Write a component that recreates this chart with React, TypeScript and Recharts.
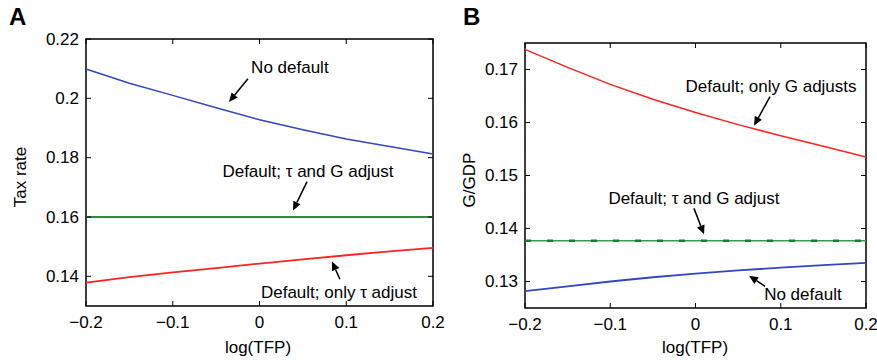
import {
  Line,
  LineChart,
  ReferenceArea,
  ReferenceDot,
  ReferenceLine,
  XAxis,
  YAxis,
} from "recharts";

// x values: log(TFP)
const logTfp = [-0.2, -0.15, -0.1, -0.05, 0, 0.05, 0.1, 0.15, 0.2];

// panel A: tax rate
const taxNoDefault = [0.2099, 0.2051, 0.201, 0.1968, 0.1928, 0.1894, 0.1863, 0.1838, 0.1812];
const taxBothAdjust = [0.16, 0.16, 0.16, 0.16, 0.16, 0.16, 0.16, 0.16, 0.16];
const taxOnlyTau = [0.1379, 0.1397, 0.1413, 0.1428, 0.1443, 0.1457, 0.1471, 0.1484, 0.1496];

// panel B: G/GDP
const gOnlyG = [0.1738, 0.1704, 0.1672, 0.1644, 0.1619, 0.1596, 0.1575, 0.1555, 0.1535];
const gBothAdjust = [0.1377, 0.1377, 0.1377, 0.1377, 0.1377, 0.1377, 0.1377, 0.1377, 0.1377];
const gNoDefault = [0.1282, 0.1291, 0.13, 0.1308, 0.1315, 0.1321, 0.1326, 0.1331, 0.1335];

const xTicks = [-0.2, -0.1, 0, 0.1, 0.2];
const taxTicks = [0.14, 0.16, 0.18, 0.2, 0.22];
const gTicks = [0.13, 0.14, 0.15, 0.16, 0.17];

const BLUE = "#3346c4";
const RED = "#ff2222";
const GREEN = "#2e8b44";
const FONT = "'Liberation Sans', Arial, sans-serif";

const dataA = logTfp.map((x, i) => ({
  x,
  noDefault: taxNoDefault[i],
  both: taxBothAdjust[i],
  onlyTau: taxOnlyTau[i],
}));

const dataB = logTfp.map((x, i) => ({
  x,
  onlyG: gOnlyG[i],
  both: gBothAdjust[i],
  noDefault: gNoDefault[i],
}));

// annotation: text position and arrow (tail -> tip), all in data units
type Note = {
  text: string;
  tx: number;
  ty: number;
  from: [number, number];
  to: [number, number];
};

const notesA: Note[] = [
  { text: "No default", tx: 0.035, ty: 0.2103, from: [-0.0133, 0.2066], to: [-0.0352, 0.1988] },
  { text: "Default; τ and G adjust", tx: 0.0559, ty: 0.1753, from: [0.0548, 0.1719], to: [0.0386, 0.1622] },
  { text: "Default; only τ adjust", tx: 0.0916, ty: 0.1346, from: [0.0927, 0.139], to: [0.0836, 0.145] },
];

const notesB: Note[] = [
  { text: "Default; only G adjusts", tx: 0.0886, ty: 0.1668, from: [0.0874, 0.1649], to: [0.0686, 0.1594] },
  { text: "Default; τ and G adjust", tx: -0.0018, ty: 0.1457, from: [-0.0018, 0.1438], to: [0.01, 0.1389] },
  { text: "No default", tx: 0.126, ty: 0.1275, from: [0.0815, 0.1291], to: [0.0628, 0.1311] },
];

const CHART_H = 360;
const TICK_LEN = 5;
const Y_GAP = 7;
const X_GAP = 10;

// line with a filled arrow head at the tip
function Arrow(props: any) {
  const { x1, y1, x2, y2 } = props;
  if (x1 == null || x2 == null) return null;
  const ang = Math.atan2(y2 - y1, x2 - x1);
  const len = 9;
  const w = 4;
  const bx = x2 - len * Math.cos(ang);
  const by = y2 - len * Math.sin(ang);
  const px = -Math.sin(ang) * w;
  const py = Math.cos(ang) * w;
  return (
    <g>
      <line x1={x1} y1={y1} x2={bx} y2={by} stroke="#000" strokeWidth={1.5} />
      <polygon points={`${x2},${y2} ${bx + px},${by + py} ${bx - px},${by - py}`} fill="#000" />
    </g>
  );
}

function renderNotes(notes: Note[]) {
  return notes.flatMap((n, i) => [
    <ReferenceLine
      key={"a" + i}
      segment={[
        { x: n.from[0], y: n.from[1] },
        { x: n.to[0], y: n.to[1] },
      ]}
      shape={(p: any) => <Arrow {...p} />}
    />,
    <ReferenceDot
      key={"t" + i}
      x={n.tx}
      y={n.ty}
      r={0}
      shape={(p: any) => (
        <text
          x={p.cx}
          y={p.cy}
          textAnchor="middle"
          dominantBaseline="central"
          fontSize={17}
          fontFamily={FONT}
          fill="#000"
        >
          {n.text}
        </text>
      )}
    />,
  ]);
}

const fmt = (v: number) => (v < 0 ? "\u2212" + Math.abs(v) : String(v));

// y tick: label on the left plus inward marks on both sides of the box
function YTick(props: any) {
  const { x, y, payload, plotW } = props;
  const left = x + Y_GAP;
  const right = left + plotW;
  return (
    <g>
      <line x1={left} y1={y} x2={left + TICK_LEN} y2={y} stroke="#000" />
      <line x1={right - TICK_LEN} y1={y} x2={right} y2={y} stroke="#000" />
      <text x={x} y={y} textAnchor="end" dominantBaseline="central" fontSize={17} fontFamily={FONT} fill="#000">
        {String(payload.value)}
      </text>
    </g>
  );
}

// x tick: label below plus inward marks at bottom and top
function XTick(props: any) {
  const { x, y, payload, plotH } = props;
  const bottom = y - X_GAP;
  const top = bottom - plotH;
  return (
    <g>
      <line x1={x} y1={bottom} x2={x} y2={bottom - TICK_LEN} stroke="#000" />
      <line x1={x} y1={top} x2={x} y2={top + TICK_LEN} stroke="#000" />
      <text x={x} y={y} dy="0.71em" textAnchor="middle" fontSize={17} fontFamily={FONT} fill="#000">
        {fmt(payload.value)}
      </text>
    </g>
  );
}

type PanelProps = {
  width: number;
  data: any[];
  yDomain: [number, number];
  yTicks: number[];
  series: { key: string; color: string; width: number }[];
  dashKey?: string;
  notes: Note[];
  left: number;
  top: number;
  right: number;
  bottom: number;
};

function Panel({ width, data, yDomain, yTicks, series, dashKey, notes, left, top, right, bottom }: PanelProps) {
  const plotW = width - left - right;
  const plotH = CHART_H - top - bottom;
  return (
    <LineChart width={width} height={CHART_H} data={data} margin={{ top, right, bottom: 0, left: 0 }}>
      <XAxis
        dataKey="x"
        type="number"
        domain={[-0.2, 0.2]}
        ticks={xTicks}
        tick={<XTick plotH={plotH} />}
        tickSize={0}
        tickMargin={X_GAP}
        tickLine={false}
        axisLine={false}
        height={bottom}
        interval={0}
      />
      <YAxis
        type="number"
        domain={yDomain}
        ticks={yTicks}
        allowDataOverflow
        tick={<YTick plotW={plotW} />}
        tickSize={0}
        tickMargin={Y_GAP}
        tickLine={false}
        axisLine={false}
        width={left}
        interval={0}
      />
      <ReferenceArea
        x1={-0.2}
        x2={0.2}
        y1={yDomain[0]}
        y2={yDomain[1]}
        fill="none"
        fillOpacity={0}
        stroke="#000"
        strokeWidth={1.5}
        ifOverflow="visible"
      />
      {series.map((s) => (
        <Line
          key={s.key}
          dataKey={s.key}
          type="linear"
          stroke={s.color}
          strokeWidth={s.width}
          dot={false}
          isAnimationActive={false}
        />
      ))}
      {dashKey ? (
        <Line
          dataKey={dashKey}
          type="linear"
          stroke="#1f7a33"
          strokeWidth={2.4}
          strokeDasharray="6 16"
          dot={false}
          isAnimationActive={false}
        />
      ) : null}
      {renderNotes(notes)}
    </LineChart>
  );
}

const sideTitle = (left: number, top: number): React.CSSProperties => ({
  position: "absolute",
  left,
  top,
  fontSize: 17,
  transform: "translate(-50%, -50%) rotate(-90deg)",
  whiteSpace: "nowrap",
  lineHeight: 1,
});

const bottomTitle = (left: number): React.CSSProperties => ({
  position: "absolute",
  left,
  top: 347,
  fontSize: 17,
  transform: "translate(-50%, -50%)",
  whiteSpace: "nowrap",
  lineHeight: 1,
});

export default function App() {
  return (
    <div style={{ position: "absolute", left: 0, top: 0, width: 877, height: 360, background: "#fff", fontFamily: FONT }}>
      <div style={{ position: "absolute", left: 0, top: 0 }}>
        <Panel
          width={455}
          data={dataA}
          yDomain={[0.13, 0.22]}
          yTicks={taxTicks}
          series={[
            { key: "noDefault", color: BLUE, width: 1.5 },
            { key: "both", color: GREEN, width: 2 },
            { key: "onlyTau", color: RED, width: 1.8 },
          ]}
          notes={notesA}
          left={86}
          top={39}
          right={22}
          bottom={54}
        />
      </div>
      <div style={{ position: "absolute", left: 437, top: 0 }}>
        <Panel
          width={440}
          data={dataB}
          yDomain={[0.125, 0.175]}
          yTicks={gTicks}
          series={[
            { key: "onlyG", color: RED, width: 1.5 },
            { key: "both", color: "#3a9a4e", width: 1.5 },
            { key: "noDefault", color: BLUE, width: 1.8 },
          ]}
          dashKey="both"
          notes={notesB}
          left={88}
          top={43}
          right={11}
          bottom={52}
        />
      </div>
      {/* panel letters and axis titles */}
      <div style={{ position: "absolute", left: 9, top: 5, fontSize: 24, fontWeight: "bold", lineHeight: 1 }}>A</div>
      <div style={{ position: "absolute", left: 463, top: 5, fontSize: 24, fontWeight: "bold", lineHeight: 1 }}>B</div>
      <div style={sideTitle(20, 177)}>Tax rate</div>
      <div style={sideTitle(469, 180)}>G/GDP</div>
      <div style={bottomTitle(258)}>log(TFP)</div>
      <div style={bottomTitle(695)}>log(TFP)</div>
    </div>
  );
}
